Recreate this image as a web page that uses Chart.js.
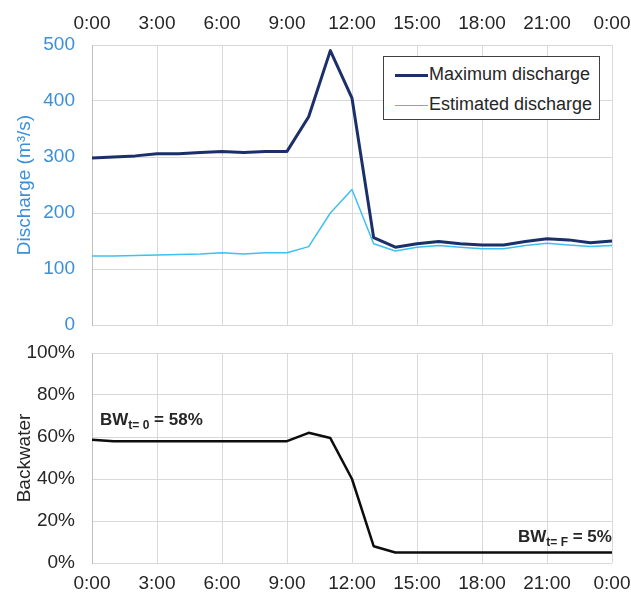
<!DOCTYPE html>
<html>
<head>
<meta charset="utf-8">
<script src="https://cdn.jsdelivr.net/npm/chart.js@4.4.1/dist/chart.umd.min.js"></script>
<style>
  html, body { margin: 0; padding: 0; background: #fff; }
  #wrap { position: relative; width: 631px; height: 597px; font-family: "Liberation Sans", Arial, sans-serif; }
  #top { position: absolute; left: 0; top: 0; width: 631px; height: 340px; }
  #bottom { position: absolute; left: 0; top: 335px; width: 631px; height: 262px; }
  #legend {
    position: absolute; left: 383px; top: 56px; width: 215px; height: 62px;
    border: 1.5px solid #404040; background: #fff; font-size: 18px; color: #262626;
  }
  .row { position: absolute; left: 11px; height: 22px; line-height: 22px; white-space: nowrap; }
  .swatch { display: inline-block; width: 33px; vertical-align: middle; margin-right: 1px; }
  .note { position: absolute; font-family: "Liberation Sans", Arial, sans-serif; font-weight: bold; font-size: 17px; color: #262626; white-space: nowrap; }
  .note sub { font-size: 12px; vertical-align: -4px; }
</style>
</head>
<body>
<div id="wrap">
  <div id="top"><canvas id="c1" width="631" height="340"></canvas></div>
  <div id="bottom"><canvas id="c2" width="631" height="262"></canvas></div>
  <div id="legend">
    <div class="row" style="top:6px"><span class="swatch" style="border-top:3px solid #1b2f6b"></span>Maximum discharge</div>
    <div class="row" style="top:36px"><span class="swatch" style="border-top:1.5px solid #3ec0f0"></span>Estimated discharge</div>
  </div>
  <div class="note" style="left:100px; top:410px">BW<sub>t= 0</sub> = 58%</div>
  <div class="note" style="left:518px; top:527px">BW<sub>t= F</sub> = 5%</div>
</div>
<script>
// hours of the day (24 = midnight of the next day)
const hours = [0, 1, 2, 3, 4, 5, 6, 7, 8, 9, 10, 11, 12, 13, 14, 15, 16, 17, 18, 19, 20, 21, 22, 23, 24];

// discharge in m3/s
const maxDischarge = [298, 300, 302, 306, 306, 308, 310, 308, 310, 310, 372, 490, 405, 156, 139, 145, 149, 145, 143, 143, 149, 154, 152, 147, 150];
const estDischarge = [123, 123, 124, 125, 126, 127, 129, 127, 129, 129, 140, 200, 242, 145, 132, 139, 142, 139, 136, 136, 142, 146, 143, 140, 142];

// backwater in %
const backwater = [58.7, 58, 58, 58, 58, 58, 58, 58, 58, 58, 62, 59.5, 40, 8, 5, 5, 5, 5, 5, 5, 5, 5, 5, 5, 5];

const hourTicks = [0, 3, 6, 9, 12, 15, 18, 21, 24];
const dischargeTicks = [0, 100, 200, 300, 400, 500];
const backwaterTicks = [0, 20, 40, 60, 80, 100];

const blue = '#3a8fd9';
const dark = '#262626';
const gridCol = '#d9d9d9';
const font = { family: '"Liberation Sans", Arial, sans-serif', size: 19 };

const pts = vals => vals.map((v, i) => ({ x: hours[i], y: v }));
const hourLabel = v => (v % 24) + ':00';

// keep the plot area where the layout padding puts it
function noPad(s) {
  s.paddingLeft = s.paddingRight = s.paddingTop = s.paddingBottom = 0;
}

function xAxis(position, h, pad) {
  return {
    type: 'linear', position: position, min: 0, max: 24,
    afterBuildTicks: s => { s.ticks = hourTicks.map(v => ({ value: v })); },
    afterFit: s => { s.height = h; noPad(s); },
    ticks: { callback: hourLabel, color: dark, font: font, padding: pad, maxRotation: 0 },
    grid: { color: gridCol, drawTicks: false },
    border: { display: false }
  };
}

function yAxis(ticks, fmt, color, title) {
  return {
    min: ticks[0], max: ticks[ticks.length - 1],
    afterBuildTicks: s => { s.ticks = ticks.map(v => ({ value: v })); },
    afterFit: s => { s.width = 92; noPad(s); },
    ticks: { callback: fmt, color: color, font: font, padding: 17 },
    grid: { color: gridCol, drawTicks: false },
    border: { color: '#bfbfbf' },
    title: { display: true, text: title, color: color, font: font, padding: { top: 13, bottom: 0 } }
  };
}

new Chart(document.getElementById('c1'), {
  type: 'line',
  data: {
    datasets: [
      { label: 'Maximum discharge', data: pts(maxDischarge), borderColor: '#1b2f6b', borderWidth: 3 },
      { label: 'Estimated discharge', data: pts(estDischarge), borderColor: '#3ec0f0', borderWidth: 1.5 }
    ]
  },
  options: {
    responsive: false, animation: false,
    elements: { point: { radius: 0 }, line: { tension: 0, borderJoinStyle: 'round' } },
    layout: { padding: { left: 0, right: 19, top: 0, bottom: 15 } },
    plugins: { legend: { display: false }, tooltip: { enabled: false } },
    scales: {
      x: xAxis('top', 45, 10),
      y: yAxis(dischargeTicks, v => v, blue, 'Discharge (m³/s)')
    }
  }
});

new Chart(document.getElementById('c2'), {
  type: 'line',
  data: {
    datasets: [
      { label: 'Backwater', data: pts(backwater), borderColor: '#0d0d0d', borderWidth: 2.5 }
    ]
  },
  options: {
    responsive: false, animation: false,
    elements: { point: { radius: 0 }, line: { tension: 0, borderJoinStyle: 'round' } },
    layout: { padding: { left: 0, right: 19, top: 18, bottom: 0 } },
    plugins: { legend: { display: false }, tooltip: { enabled: false } },
    scales: {
      x: xAxis('bottom', 34, 9),
      y: yAxis(backwaterTicks, v => v + '%', dark, 'Backwater')
    }
  }
});
</script>
</body>
</html>
